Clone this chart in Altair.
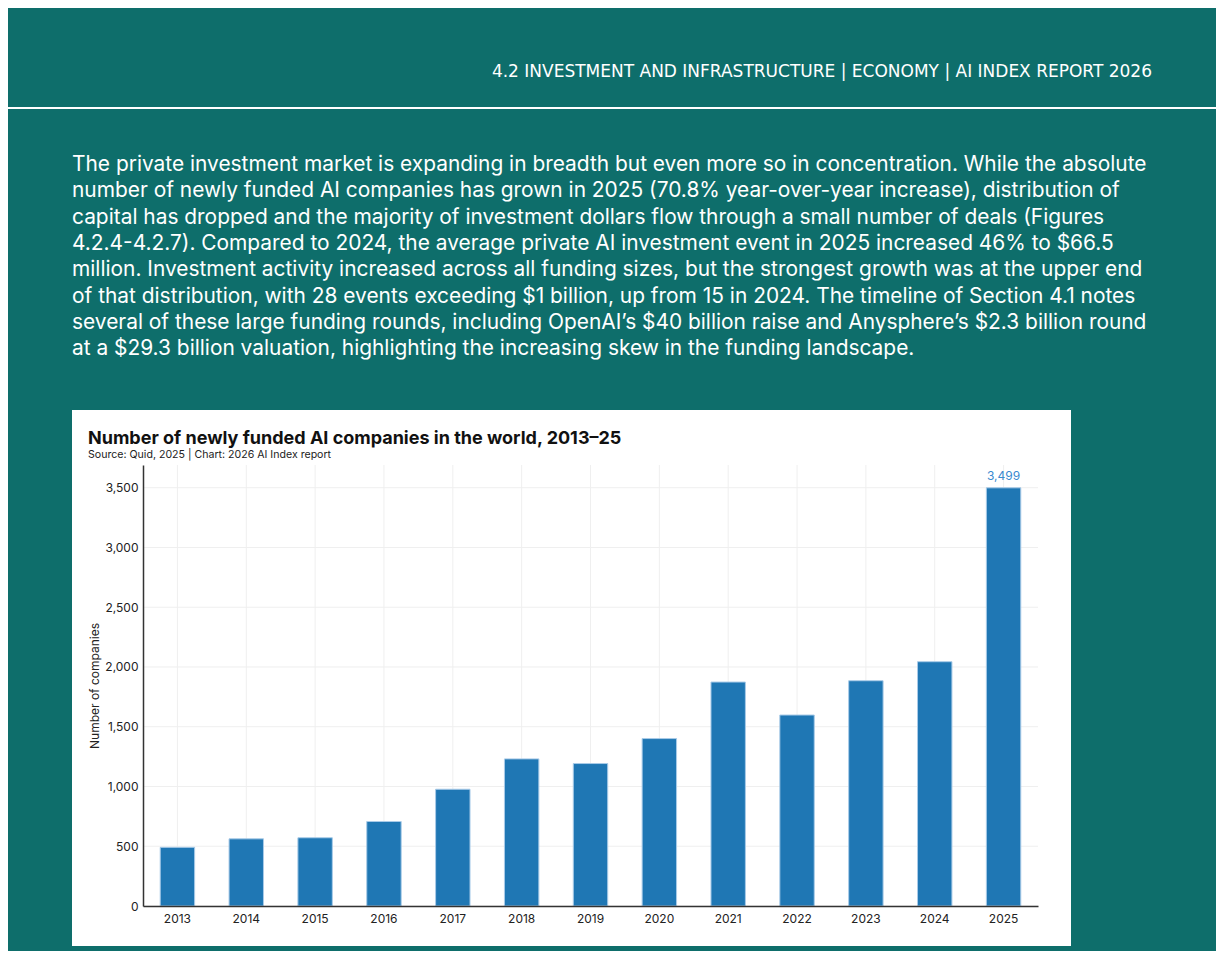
import altair as alt
import pandas as pd

# ---- data ----
years = ["2013", "2014", "2015", "2016", "2017", "2018", "2019",
         "2020", "2021", "2022", "2023", "2024", "2025"]
companies = [491, 562, 571, 707, 977, 1231, 1192, 1401, 1874, 1598, 1885, 2044, 3499]
y_ticks = [0, 500, 1000, 1500, 2000, 2500, 3000, 3500]
label_years = ["2025"]

header_text = ["4.2 INVESTMENT AND INFRASTRUCTURE | ECONOMY | AI INDEX REPORT 2026"]
paragraph_lines = [
    "The private investment market is expanding in breadth but even more so in concentration. While the absolute",
    "number of newly funded AI companies has grown in 2025 (70.8% year-over-year increase), distribution of",
    "capital has dropped and the majority of investment dollars flow through a small number of deals (Figures",
    "4.2.4-4.2.7). Compared to 2024, the average private AI investment event in 2025 increased 46% to $66.5",
    "million. Investment activity increased across all funding sizes, but the strongest growth was at the upper end",
    "of that distribution, with 28 events exceeding $1 billion, up from 15 in 2024. The timeline of Section 4.1 notes",
    "several of these large funding rounds, including OpenAI’s $40 billion raise and Anysphere’s $2.3 billion round",
    "at a $29.3 billion valuation, highlighting the increasing skew in the funding landscape.",
]
chart_title = ["Number of newly funded AI companies in the world, 2013–25"]
chart_source = ["Source: Quid, 2025 | Chart: 2026 AI Index report"]

# ---- layout ----
W, H = 895, 441
TEAL = "#0e6e6b"
BLUE = "#1f77b4"
FONT = "Inter"

df = pd.DataFrame({"year": years, "companies": companies})
df_lab = df[df["year"].isin(label_years)]
one = pd.DataFrame({"k": [0]})

yscale = alt.Scale(domain=[0, 3690], nice=False, zero=True)
xscale = alt.Scale(paddingInner=0.5, paddingOuter=0.25)

x_axis = alt.Axis(title=None, labelAngle=0, ticks=False, grid=False,
                  domainColor="#333", domainWidth=1.5, labelFont=FONT,
                  labelFontSize=12, labelColor="#222", labelPadding=7, zindex=1)
y_axis = alt.Axis(title="Number of companies", values=y_ticks,
                  labelExpr="format(datum.value, ',')",
                  ticks=False, grid=False, domainColor="#333", domainWidth=1.5,
                  labelFont=FONT, labelFontSize=12, labelColor="#222", labelPadding=5,
                  titleFont=FONT, titleFontSize=12, titleFontWeight="normal",
                  titleColor="#222", titlePadding=3, zindex=1)

X = alt.X("year:N", sort=years, scale=xscale, axis=x_axis, title=None)
Y = alt.Y("companies:Q", scale=yscale, axis=y_axis, title="Number of companies")

card = alt.Chart(one).mark_rect(color="white").encode(
    x=alt.value(-71), x2=alt.value(928), y=alt.value(-55), y2=alt.value(481)
)

hgrid = alt.Chart(pd.DataFrame({"companies": y_ticks})).mark_rule(
    color="#efefef", strokeWidth=1
).encode(y=Y, x=alt.value(0), x2=alt.value(W))

vgrid = alt.Chart(pd.DataFrame({"year": years})).mark_rule(
    color="#efefef", strokeWidth=1
).encode(x=X, y=alt.value(0), y2=alt.value(H))

bars = alt.Chart(df).mark_bar(color=BLUE, stroke="#a9cbe8", strokeWidth=1).encode(x=X, y=Y)

bar_label = alt.Chart(df_lab).mark_text(
    color="#3a8ad0", fontSize=12, font=FONT, baseline="bottom", dy=-5
).encode(x=X, y=Y, text=alt.Text("companies:Q", format=","))

title_txt = alt.Chart(pd.DataFrame({"t": chart_title})).mark_text(
    align="left", baseline="alphabetic", font=FONT, fontSize=18, fontWeight="bold", color="#111"
).encode(text="t:N", x=alt.value(-55), y=alt.value(-21))

source_txt = alt.Chart(pd.DataFrame({"t": chart_source})).mark_text(
    align="left", baseline="alphabetic", font=FONT, fontSize=10.6, color="#222"
).encode(text="t:N", x=alt.value(-55), y=alt.value(-7))

header = alt.Chart(pd.DataFrame({"t": header_text})).mark_text(
    align="right", baseline="alphabetic", font="DejaVu Sans", fontSize=17, color="white"
).encode(text="t:N", x=alt.value(1009), y=alt.value(-388))

header_rule = alt.Chart(one).mark_rule(color="white", strokeWidth=2).encode(
    x=alt.value(-200), x2=alt.value(1200), y=alt.value(-357)
)

para = alt.Chart(pd.DataFrame({"t": ["\n".join(paragraph_lines)]})).mark_text(
    align="left", baseline="alphabetic", font=FONT, fontSize=20.9, color="white",
    lineBreak="\n", lineHeight=26.3
).encode(text="t:N", x=alt.value(-71), y=alt.value(-294))

chart = alt.layer(
    card, hgrid, vgrid, bars, bar_label, title_txt, source_txt, header, header_rule, para
).properties(
    width=W, height=H,
    autosize=alt.AutoSizeParams(type="none"),
    padding={"left": 135, "top": 457, "right": 178, "bottom": 45},
).configure(background=TEAL).configure_view(strokeWidth=0)

chart.save("out.html", embed_options={"renderer": "svg", "actions": False})
